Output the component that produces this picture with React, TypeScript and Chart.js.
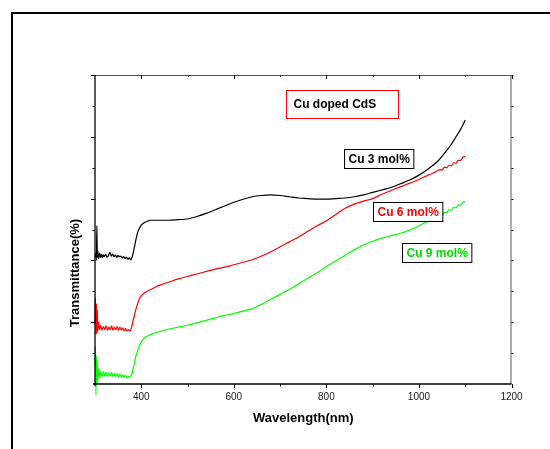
import React, { useEffect, useRef } from 'react';
import { Chart, registerables } from 'chart.js';
Chart.register(...registerables);

// Wavelength (nm) and transmittance (arb. units, offset) for each sample
const blackWl = [300, 302, 303, 304, 305, 306, 308, 310, 312, 314, 316, 318, 320, 323, 326, 329, 332, 335, 338, 341, 344, 347, 350, 353, 356, 359, 362, 365, 368, 371, 374, 377, 380, 384, 388, 392, 396, 400, 406, 412, 420, 430, 440, 460, 480, 500, 520, 540, 560, 580, 600, 620, 640, 660, 680, 700, 720, 740, 760, 780, 800, 820, 840, 860, 880, 900, 920, 940, 960, 980, 1000, 1020, 1040, 1060, 1070, 1080, 1090, 1100];
const blackT = [2.05, 2.12, 2.0, 2.56, 2.05, 2.15, 2.03, 2.12, 2.05, 2.1, 2.04, 2.09, 2.06, 2.1, 2.05, 2.08, 2.13, 2.07, 2.1, 2.06, 2.09, 2.05, 2.08, 2.06, 2.07, 2.04, 2.06, 2.03, 2.05, 2.02, 2.04, 2.01, 2.05, 2.17, 2.32, 2.45, 2.52, 2.57, 2.61, 2.63, 2.65, 2.65, 2.65, 2.65, 2.66, 2.67, 2.71, 2.76, 2.82, 2.88, 2.94, 2.99, 3.03, 3.05, 3.06, 3.05, 3.03, 3.01, 3.0, 2.99, 2.99, 3.0, 3.01, 3.03, 3.06, 3.1, 3.14, 3.18, 3.24, 3.3, 3.38, 3.48, 3.6, 3.78, 3.88, 4.0, 4.12, 4.27];

const redWl = [300, 301, 302, 303, 304, 305, 306, 308, 310, 312, 315, 318, 321, 324, 327, 330, 333, 336, 339, 342, 345, 348, 351, 354, 357, 360, 363, 366, 369, 372, 376, 380, 384, 388, 392, 396, 400, 406, 415, 426, 440, 460, 480, 500, 520, 540, 560, 580, 600, 620, 640, 660, 680, 700, 720, 740, 760, 780, 800, 820, 840, 860, 880, 900, 920, 940, 960, 980, 1000, 1020, 1030, 1040, 1045, 1050, 1055, 1060, 1065, 1070, 1075, 1080, 1085, 1090, 1095, 1100];
const redT = [1.0, 1.39, 0.8, 1.3, 0.82, 1.2, 0.86, 1.0, 0.88, 0.95, 0.87, 0.93, 0.88, 0.94, 0.87, 0.92, 0.88, 0.94, 0.87, 0.92, 0.88, 0.93, 0.87, 0.92, 0.87, 0.91, 0.86, 0.9, 0.86, 0.88, 0.86, 0.95, 1.08, 1.2, 1.3, 1.38, 1.43, 1.47, 1.51, 1.55, 1.6, 1.65, 1.7, 1.74, 1.78, 1.82, 1.86, 1.89, 1.93, 1.97, 2.01, 2.07, 2.14, 2.22, 2.3, 2.38, 2.47, 2.56, 2.64, 2.74, 2.84, 2.91, 2.96, 3.0, 3.07, 3.13, 3.19, 3.25, 3.31, 3.38, 3.41, 3.45, 3.47, 3.46, 3.51, 3.5, 3.54, 3.53, 3.58, 3.57, 3.62, 3.62, 3.67, 3.68];

const greenWl = [300, 301, 302, 303, 304, 305, 306, 308, 310, 312, 315, 318, 321, 324, 327, 330, 333, 336, 339, 342, 345, 348, 351, 354, 357, 360, 363, 366, 369, 372, 376, 380, 384, 388, 392, 396, 400, 406, 414, 426, 440, 460, 480, 500, 520, 540, 560, 580, 600, 620, 640, 660, 680, 700, 720, 740, 760, 780, 800, 820, 840, 860, 880, 900, 920, 940, 960, 980, 1000, 1010, 1020, 1030, 1040, 1045, 1050, 1055, 1060, 1065, 1070, 1075, 1080, 1085, 1090, 1095, 1100];
const greenT = [0.3, 0.6, -0.18, 0.45, 0.0, 0.35, 0.05, 0.25, 0.1, 0.2, 0.12, 0.2, 0.13, 0.19, 0.12, 0.18, 0.13, 0.19, 0.12, 0.17, 0.12, 0.17, 0.11, 0.16, 0.11, 0.15, 0.11, 0.14, 0.1, 0.12, 0.12, 0.17, 0.3, 0.44, 0.54, 0.62, 0.68, 0.74, 0.78, 0.82, 0.85, 0.89, 0.92, 0.95, 0.99, 1.03, 1.07, 1.11, 1.14, 1.18, 1.22, 1.29, 1.37, 1.45, 1.53, 1.62, 1.71, 1.8, 1.9, 1.99, 2.08, 2.17, 2.25, 2.31, 2.36, 2.4, 2.44, 2.49, 2.56, 2.6, 2.63, 2.68, 2.7, 2.74, 2.73, 2.78, 2.77, 2.82, 2.81, 2.86, 2.85, 2.9, 2.89, 2.94, 2.95];

const xMajorTicks = [400, 600, 800, 1000, 1200];
const xMinorTicks = [500, 700, 900, 1100];
const yMajorTicks = [1, 2, 3, 4, 5];
const yMinorTicks = [0.5, 1.5, 2.5, 3.5, 4.5];

// Text boxes: label, centre (wavelength, value), text colour, border colour
const boxLabels = ['Cu doped CdS', 'Cu 3 mol%', 'Cu 6 mol%', 'Cu 9 mol%'];
const boxX = [834, 912, 975, 1039];
const boxY = [4.53, 3.65, 2.79, 2.12];
const boxText = ['#000000', '#000000', '#ff0000', '#00d800'];
const boxBorder = ['#ff0000', '#000000', '#000000', '#000000'];

const FONT = "'Liberation Sans', Arial, sans-serif";

const pts = (xs: number[], ys: number[]) => xs.map((x, i) => ({ x, y: ys[i] }));

const decorPlugin = {
  id: 'decor',
  beforeDraw(chart: any) {
    const ctx = chart.ctx;
    ctx.save();
    ctx.fillStyle = '#000';
    ctx.fillRect(11, 12, 2, 460);
    ctx.fillRect(11, 12, 560, 2);
    ctx.restore();
  },
  afterDatasetsDraw(chart: any) {
    const ctx = chart.ctx;
    const xs = chart.scales.x;
    const ys = chart.scales.y;
    const { left, right, top, bottom } = chart.chartArea;
    ctx.save();
    // frame
    ctx.lineWidth = 1;
    ctx.strokeStyle = '#555';
    ctx.beginPath();
    ctx.moveTo(left, top + 0.5);
    ctx.lineTo(right, top + 0.5);
    ctx.moveTo(right - 0.5, top);
    ctx.lineTo(right - 0.5, bottom);
    ctx.stroke();
    ctx.strokeStyle = '#000';
    ctx.lineWidth = 1.3;
    ctx.beginPath();
    ctx.moveTo(left - 2, bottom);
    ctx.lineTo(right, bottom);
    ctx.moveTo(left, top);
    ctx.lineTo(left, bottom + 2);
    ctx.stroke();
    // ticks
    ctx.lineWidth = 1;
    ctx.strokeStyle = '#000';
    ctx.beginPath();
    xMajorTicks.forEach((v) => {
      const p = Math.round(xs.getPixelForValue(v)) + 0.5;
      ctx.moveTo(p, bottom);
      ctx.lineTo(p, bottom + 4);
      ctx.moveTo(p, top);
      ctx.lineTo(p, top + 4);
    });
    xMinorTicks.forEach((v) => {
      const p = Math.round(xs.getPixelForValue(v)) + 0.5;
      ctx.moveTo(p, bottom);
      ctx.lineTo(p, bottom + 2.5);
      ctx.moveTo(p, top);
      ctx.lineTo(p, top + 2);
    });
    yMajorTicks.forEach((v) => {
      const p = Math.round(ys.getPixelForValue(v)) + 0.5;
      ctx.moveTo(left, p);
      ctx.lineTo(left - 4, p);
      ctx.moveTo(right, p);
      ctx.lineTo(right + 2, p);
    });
    yMinorTicks.forEach((v) => {
      const p = Math.round(ys.getPixelForValue(v)) + 0.5;
      ctx.moveTo(left, p);
      ctx.lineTo(left - 2.5, p);
      ctx.moveTo(right, p);
      ctx.lineTo(right + 2, p);
    });
    ctx.stroke();

    // y title
    ctx.save();
    ctx.translate(75, 273);
    ctx.rotate(-Math.PI / 2);
    ctx.font = `bold 13px ${FONT}`;
    ctx.fillStyle = '#000';
    ctx.textAlign = 'center';
    ctx.textBaseline = 'middle';
    ctx.fillText('Transmittance(%)', 0, 0);
    ctx.restore();

    // boxes
    ctx.font = `bold 12px ${FONT}`;
    ctx.textBaseline = 'middle';
    boxLabels.forEach((label, i) => {
      const cx = xs.getPixelForValue(boxX[i]);
      const cy = ys.getPixelForValue(boxY[i]);
      const tw = ctx.measureText(label).width;
      const w = i === 0 ? 112 : tw + 8;
      const h = i === 0 ? 28 : 19;
      const x0 = Math.round(cx - w / 2) + 0.5;
      const y0 = Math.round(cy - h / 2) + 0.5;
      ctx.fillStyle = '#fff';
      ctx.fillRect(x0, y0, w, h);
      ctx.strokeStyle = boxBorder[i];
      ctx.lineWidth = 1;
      ctx.strokeRect(x0, y0, w, h);
      ctx.fillStyle = boxText[i];
      ctx.textAlign = 'left';
      const tx = i === 0 ? x0 + 7 : x0 + (w - tw) / 2;
      ctx.fillText(label, tx, y0 + h / 2 + 0.5);
    });
    ctx.restore();
  },
};

export default function App() {
  const ref = useRef<HTMLCanvasElement | null>(null);
  useEffect(() => {
    if (!ref.current) return;
    const common = { borderWidth: 1.2, pointRadius: 0, fill: false, clip: false as any, cubicInterpolationMode: 'monotone' as any };
    const chart = new Chart(ref.current, {
      type: 'line',
      data: {
        datasets: [
          { label: 'Cu 3 mol%', data: pts(blackWl, blackT), borderColor: '#000000', ...common },
          { label: 'Cu 6 mol%', data: pts(redWl, redT), borderColor: '#ff0000', ...common },
          { label: 'Cu 9 mol%', data: pts(greenWl, greenT), borderColor: '#00ff00', ...common },
        ],
      },
      options: {
        animation: false,
        responsive: false,
        maintainAspectRatio: false,
        layout: { padding: { top: 75, right: 38.5, bottom: 0, left: 0 } },
        plugins: { legend: { display: false }, tooltip: { enabled: false } },
        scales: {
          x: {
            type: 'linear',
            min: 300,
            max: 1200,
            grid: { display: false, drawTicks: false },
            border: { display: false },
            ticks: {
              stepSize: 100,
              autoSkip: false,
              maxRotation: 0,
              padding: 7,
              color: '#222',
              font: { family: FONT, size: 10 },
              callback: (v: any) => (xMajorTicks.includes(Number(v)) ? String(v) : ''),
            },
            title: {
              display: true,
              text: 'Wavelength(nm)',
              color: '#000',
              font: { family: FONT, size: 13, weight: 'bold' },
              padding: { top: 0, bottom: 23 },
            },
            afterFit: (s: any) => { s.height = 65; },
          },
          y: {
            type: 'linear',
            min: 0,
            max: 5,
            grid: { display: false, drawTicks: false },
            border: { display: false },
            ticks: { display: false },
            afterFit: (s: any) => { s.width = 95; },
          },
        },
      },
      plugins: [decorPlugin],
    } as any);
    return () => chart.destroy();
  }, []);
  return (
    <div style={{ position: 'fixed', left: 0, top: 0, width: 550, height: 449, background: '#fff' }}>
      <canvas ref={ref} width={550} height={449} style={{ display: 'block' }} />
    </div>
  );
}
